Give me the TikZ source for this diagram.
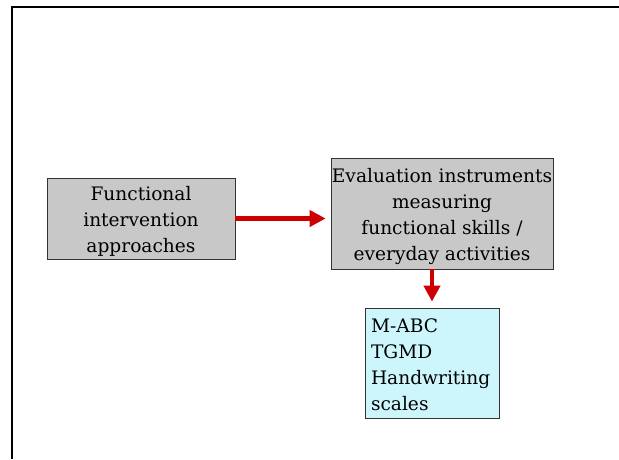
\documentclass[tikz,border=0pt]{standalone}
\usepackage{fontspec}
\setmainfont{DejaVu Serif}
\usetikzlibrary{arrows.meta}
\definecolor{boxgray}{RGB}{200,200,200}
\definecolor{boxcyan}{RGB}{204,245,252}
\definecolor{arrred}{RGB}{204,0,0}
\tikzset{
  boxshape/.style={draw=black!80, line width=0.8pt, inner sep=0pt},
  boxtext/.style={inner sep=0pt, font=\fontsize{18.6}{26}\selectfont},
  redarrow/.style={draw=arrred, line width=4.5pt, -{Triangle[length=16pt,width=16pt]}}
}
\begin{document}
\begin{tikzpicture}[x=1pt,y=-1pt]
\useasboundingbox (0,0) rectangle (619,459);
\draw[line width=2pt] (12,459) -- (12,7) -- (619,7);
\node[boxshape, fill=boxgray, minimum width=188pt, minimum height=81pt] (a) at (141,218.5) {};
\node[boxtext, align=center] (at) at ([yshift=-3pt]a.center) {Functional\\intervention\\approaches};
\node[boxshape, fill=boxgray, minimum width=222pt, minimum height=111pt] (b) at (442,213.5) {};
\node[boxtext, align=center] (bt) at ([yshift=-3pt]b.center) {Evaluation instruments\\measuring\\functional skills /\\everyday activities};
\node[boxshape, fill=boxcyan, minimum width=134pt, minimum height=110pt] (c) at (432,363) {};
\node[boxtext, align=left, text width=122pt] (ct) at ([yshift=-2pt]c.center) {M-ABC\\TGMD\\Handwriting\\scales};
\draw[redarrow] (a.east) -- ([xshift=-5pt]a.east -| b.west);
\draw[redarrow] (b.south -| c.north) -- ([yshift=6pt]c.north);
\end{tikzpicture}
\end{document}
